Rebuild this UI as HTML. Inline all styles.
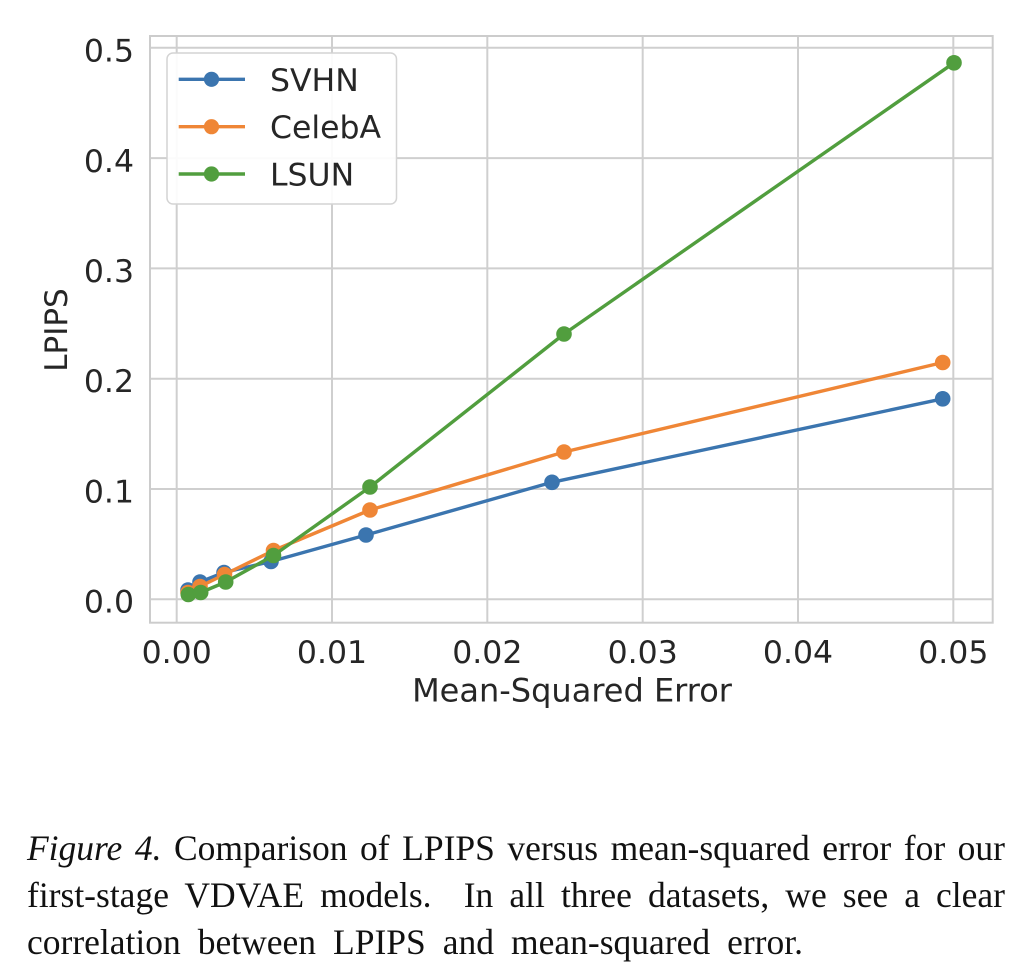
<!DOCTYPE html>
<html>
<head>
<meta charset="utf-8">
<style>
  html, body { margin:0; padding:0; background:#ffffff; }
  body { width:1034px; height:974px; position:relative; overflow:hidden; }
  svg { position:absolute; left:0; top:0; }
  .cap { position:absolute; left:27px; font-family:"Liberation Serif", serif; font-size:35.5px; line-height:35.5px; color:#111; text-align:justify; text-align-last:justify; }
</style>
</head>
<body>
<svg width="1034" height="974" viewBox="0 0 1034 974" xmlns="http://www.w3.org/2000/svg">
  <!-- grid -->
  <g stroke="#cfcfcf" stroke-width="2" fill="none">
    <line x1="176.7" y1="36" x2="176.7" y2="622.7"/>
    <line x1="332" y1="36" x2="332" y2="622.7"/>
    <line x1="487.3" y1="36" x2="487.3" y2="622.7"/>
    <line x1="642.7" y1="36" x2="642.7" y2="622.7"/>
    <line x1="798" y1="36" x2="798" y2="622.7"/>
    <line x1="953.3" y1="36" x2="953.3" y2="622.7"/>
    <line x1="150" y1="599.3" x2="992.7" y2="599.3"/>
    <line x1="150" y1="489" x2="992.7" y2="489"/>
    <line x1="150" y1="378.7" x2="992.7" y2="378.7"/>
    <line x1="150" y1="268.4" x2="992.7" y2="268.4"/>
    <line x1="150" y1="158.1" x2="992.7" y2="158.1"/>
    <line x1="150" y1="47.8" x2="992.7" y2="47.8"/>
  </g>
  <!-- frame -->
  <rect x="150" y="36" width="842.7" height="586.7" fill="none" stroke="#cccccc" stroke-width="2"/>

  <!-- SVHN -->
  <g>
    <polyline fill="none" stroke="#3b75af" stroke-width="3.4" stroke-linejoin="round"
      points="188,590 200,582 224,572.5 271,561.5 366,535 552,482.3 942.7,398.8"/>
    <g fill="#3b75af">
      <circle cx="188" cy="590" r="7.8"/>
      <circle cx="200" cy="582" r="7.8"/>
      <circle cx="224" cy="572.5" r="7.8"/>
      <circle cx="271" cy="561.5" r="7.8"/>
      <circle cx="366" cy="535" r="7.8"/>
      <circle cx="552" cy="482.3" r="7.8"/>
      <circle cx="942.7" cy="398.8" r="7.8"/>
    </g>
  </g>
  <!-- CelebA -->
  <g>
    <polyline fill="none" stroke="#ef8636" stroke-width="3.4" stroke-linejoin="round"
      points="188,592.5 200,586.5 224.5,574.5 273.5,550.5 370,510 564,452 942.7,362.5"/>
    <g fill="#ef8636">
      <circle cx="188" cy="592.5" r="7.8"/>
      <circle cx="200" cy="586.5" r="7.8"/>
      <circle cx="224.5" cy="574.5" r="7.8"/>
      <circle cx="273.5" cy="550.5" r="7.8"/>
      <circle cx="370" cy="510" r="7.8"/>
      <circle cx="564" cy="452" r="7.8"/>
      <circle cx="942.7" cy="362.5" r="7.8"/>
    </g>
  </g>
  <!-- LSUN -->
  <g>
    <polyline fill="none" stroke="#519e3e" stroke-width="3.4" stroke-linejoin="round"
      points="188.3,594.5 200.7,592.5 225.7,582 273.5,555.5 370,487 564,334 954,62.8"/>
    <g fill="#519e3e">
      <circle cx="188.3" cy="594.5" r="7.8"/>
      <circle cx="200.7" cy="592.5" r="7.8"/>
      <circle cx="225.7" cy="582" r="7.8"/>
      <circle cx="273.5" cy="555.5" r="7.8"/>
      <circle cx="370" cy="487" r="7.8"/>
      <circle cx="564" cy="334" r="7.8"/>
      <circle cx="954" cy="62.8" r="7.8"/>
    </g>
  </g>

  <!-- legend -->
  <rect x="167" y="53" width="229.5" height="151" rx="6" ry="6" fill="#ffffff" fill-opacity="0.9" stroke="#d4d4d4" stroke-width="1.5"/>
  <line x1="178.7" y1="79.3" x2="245" y2="79.3" stroke="#3b75af" stroke-width="3.4"/>
  <circle cx="211.5" cy="79.3" r="7.6" fill="#3b75af"/>
  <line x1="178.7" y1="126.7" x2="245" y2="126.7" stroke="#ef8636" stroke-width="3.4"/>
  <circle cx="211.5" cy="126.7" r="7.6" fill="#ef8636"/>
  <line x1="178.7" y1="174" x2="245" y2="174" stroke="#519e3e" stroke-width="3.4"/>
  <circle cx="211.5" cy="174" r="7.6" fill="#519e3e"/>
  <g font-family="DejaVu Sans, sans-serif" font-size="31.5" fill="#262626">
    <text x="270" y="90.9">SVHN</text>
    <text x="270" y="138.2">CelebA</text>
    <text x="270" y="185.5">LSUN</text>
  </g>

  <!-- y tick labels -->
  <g font-family="DejaVu Sans, sans-serif" font-size="31.5" fill="#262626" text-anchor="end">
    <text x="134" y="612.7">0.0</text>
    <text x="134" y="502.5">0.1</text>
    <text x="134" y="392.2">0.2</text>
    <text x="134" y="282">0.3</text>
    <text x="134" y="171.8">0.4</text>
    <text x="134" y="61.7">0.5</text>
  </g>
  <!-- x tick labels -->
  <g font-family="DejaVu Sans, sans-serif" font-size="31.5" fill="#262626" text-anchor="middle">
    <text x="176.7" y="663">0.00</text>
    <text x="332" y="663">0.01</text>
    <text x="487.3" y="663">0.02</text>
    <text x="642.7" y="663">0.03</text>
    <text x="798" y="663">0.04</text>
    <text x="953.3" y="663">0.05</text>
  </g>
  <!-- axis labels -->
  <text x="572" y="701.7" font-family="DejaVu Sans, sans-serif" font-size="32" fill="#262626" text-anchor="middle">Mean-Squared Error</text>
  <text x="67" y="330" transform="rotate(-90 67 330)" font-family="DejaVu Sans, sans-serif" font-size="31" fill="#262626" text-anchor="middle">LPIPS</text>
</svg>

<div class="cap" style="top:831px; width:978px;"><i>Figure 4.</i> Comparison of LPIPS versus mean-squared error for our</div>
<div class="cap" style="top:878px; width:978px;">first-stage VDVAE models. &nbsp;In all three datasets, we see a clear</div>
<div class="cap" style="top:925px; width:776px;">correlation between LPIPS and mean-squared error.</div>
</body>
</html>
